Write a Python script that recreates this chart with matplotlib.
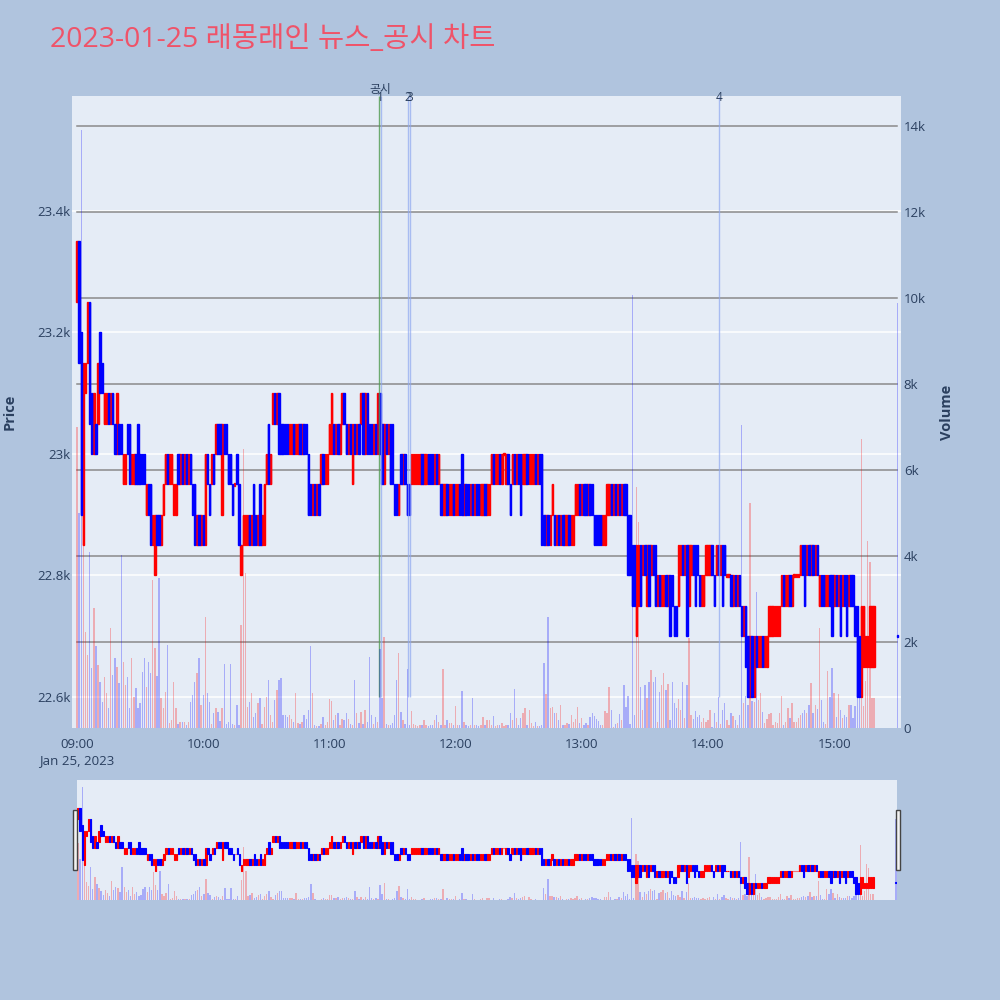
import matplotlib
matplotlib.use("Agg")
import matplotlib.pyplot as plt
import numpy as np
from matplotlib.patches import Rectangle

plt.rcParams["font.family"] = ["Open Sans", "Noto Sans CJK KR", "DejaVu Sans"]

TITLE = "2023-01-25 래몽래인 뉴스_공시 차트"

# 1-minute candles from 09:00 to 15:19.
# each token = open, close as hex steps of 50 won above 22,600
BASE_PRICE = 22600
STEP = 50
CANDLES = """
df fb c6 5b ab bd d9 a8 8a 98  9b ca ba 9a 9a a9 9a a9 98 89
98 98 78 78 98 97 78 78 87 97  87 87 87 67 76 75 56 46 65 65
56 67 78 87 78 78 67 67 87 78  87 78 87 78 87 76 75 56 65 56
65 58 87 76 78 87 89 98 98 69  98 98 87 87 76 77 87 75 45 56
56 56 65 56 75 65 56 75 56 57  78 97 78 9a a9 9a a8 98 98 98
98 89 89 98 89 89 98 89 98 98  86 76 67 76 67 76 78 87 78 78
89 89 98 89 98 89 9a a9 98 89  98 79 98 89 98 9a a8 8a a8 98
98 89 98 8a a8 97 79 98 89 97  97 76 76 67 87 78 87 76 76 78
78 78 78 78 87 78 78 87 87 87  78 87 78 76 67 67 76 67 67 76
67 67 76 86 67 76 76 67 76 67  76 76 67 67 76 67 67 78 87 78
78 87 78 88 78 87 76 78 87 78  87 86 78 78 87 78 78 78 87 78
87 85 65 56 65 56 67 65 56 65  56 65 56 56 65 56 56 67 67 76
67 76 76 67 76 76 65 65 65 65  56 56 67 67 76 67 76 67 76 67
76 76 64 64 53 53 25 35 53 45  54 35 53 45 54 53 34 43 34 34
43 34 42 43 32 32 35 45 54 45  52 35 45 54 53 54 43 34 34 45
45 45 54 43 45 54 45 53 54 44  44 43 34 43 34 43 32 23 31 20
02 20 02 21 12 12 21 12 12 23  23 23 23 23 23 34 43 34 34 43
34 44 44 44 45 54 53 45 54 45  54 45 54 34 43 43 34 34 43 42
34 43 34 42 34 43 42 34 43 43  32 30 20 03 13 12 12 13 13 13
"""
CLOSING_AUCTION = "22"          # 15:30 single price
EXTRA_HIGH = {19: "a", 121: "a"}

VOLUME = [
    7000, 5000, 13900, 4300, 2230, 1700, 4100, 1400, 2800, 1900,
    1460, 1070, 600, 1190, 810, 470, 2320, 1230, 1620, 1420,
    1040, 4020, 1540, 1000, 1190, 460, 1620, 720, 930, 460,
    570, 1310, 1620, 960, 1540, 1270, 3440, 1860, 1200, 3500,
    690, 460, 840, 1930, 120, 190, 1070, 460, 100, 130,
    150, 130, 70, 150, 600, 770, 1070, 1270, 1620, 540,
    770, 2580, 810, 600, 100, 350, 460, 380, 160, 460,
    1500, 100, 150, 1500, 100, 80, 540, 60, 2400, 6500,
    3600, 490, 600, 810, 260, 350, 570, 690, 100, 500,
    720, 1120, 310, 150, 650, 880, 1120, 1160, 300, 300,
    260, 300, 200, 150, 810, 120, 100, 140, 300, 220,
    420, 1900, 810, 70, 50, 50, 100, 260, 80, 150,
    670, 620, 190, 300, 340, 70, 220, 190, 340, 220,
    100, 70, 1110, 340, 120, 380, 100, 420, 150, 1640,
    300, 100, 250, 150, 1840, 690, 2120, 100, 80, 60,
    120, 300, 1110, 1740, 380, 190, 100, 1370, 80, 400,
    90, 70, 50, 60, 80, 190, 60, 50, 70, 80,
    190, 300, 150, 80, 1370, 60, 190, 110, 110, 70,
    510, 60, 80, 860, 150, 70, 50, 60, 690, 80,
    60, 50, 70, 260, 60, 190, 190, 60, 280, 50,
    60, 80, 110, 50, 60, 70, 340, 190, 900, 230,
    70, 230, 340, 460, 60, 420, 110, 50, 150, 50,
    40, 60, 1510, 790, 2590, 470, 490, 350, 350, 190,
    530, 70, 60, 110, 100, 300, 150, 210, 490, 120,
    230, 60, 110, 70, 260, 340, 280, 210, 170, 80,
    60, 400, 340, 960, 420, 30, 90, 110, 320, 190,
    990, 480, 740, 90, 10060, 300, 5600, 4800, 960, 420,
    990, 690, 1070, 1350, 1070, 1190, 150, 840, 990, 1270,
    880, 1030, 190, 1070, 580, 460, 670, 420, 1070, 230,
    1010, 2090, 300, 210, 400, 260, 300, 150, 230, 150,
    190, 420, 30, 340, 150, 720, 90, 420, 580, 190,
    70, 340, 280, 190, 70, 300, 7050, 570, 740, 540,
    5230, 620, 600, 3160, 650, 810, 380, 110, 200, 320,
    340, 70, 150, 110, 340, 740, 80, 150, 460, 230,
    590, 150, 130, 230, 300, 340, 430, 340, 530, 1040,
    360, 530, 450, 2320, 650, 150, 90, 1330, 730, 1390,
    810, 250, 790, 420, 230, 300, 260, 530, 530, 230,
    510, 1110, 730, 6720, 510, 1100, 4350, 3860, 690, 700,
    9880,
]

DISCLOSURES = ["11:24", "11:37", "11:38", "14:05"]
XTICK_LABELS = ["09:00\nJan 25, 2023", "10:00", "11:00", "12:00", "13:00", "14:00", "15:00"]
PRICE_TICKS = [22600, 22800, 23000, 23200, 23400]
PRICE_LABELS = ["22.6k", "22.8k", "23k", "23.2k", "23.4k"]
VOL_TICKS = [0, 2000, 4000, 6000, 8000, 10000, 12000, 14000]
VOL_LABELS = ["0", "2k", "4k", "6k", "8k", "10k", "12k", "14k"]

PRICE_LIM = (22549, 23589)
VOL_LIM = (0, 14700)
UP, DOWN = "#ff0000", "#0000ff"
PLOT_BG, PAPER_BG, FONT_C = "#e5ecf6", "#b0c4de", "#2a3f5f"

# ── parse ──────────────────────────────────
tokens = CANDLES.split() + [CLOSING_AUCTION]
opens = np.array([BASE_PRICE + STEP * int(t[0], 16) for t in tokens], float)
closes = np.array([BASE_PRICE + STEP * int(t[1], 16) for t in tokens], float)
highs = np.maximum(opens, closes)
lows = np.minimum(opens, closes)
for m, h in EXTRA_HIGH.items():
    highs[m] = max(highs[m], BASE_PRICE + STEP * int(h, 16))
minutes = np.r_[np.arange(len(tokens) - 1), 390]
vol = np.array(VOLUME, float)
assert len(vol) == len(tokens)

prev = np.r_[closes[0], closes[:-1]]
up = (closes > opens) | ((closes == opens) & (closes >= prev))
body_b = np.where(closes == opens, opens - 2, lows)
body_h = np.where(closes == opens, 4, highs - lows)


def to_min(t):
    h, m = map(int, t.split(":"))
    return (h - 9) * 60 + m


def draw_candles(ax, lw):
    for col, mask in ((UP, up), (DOWN, ~up)):
        ax.vlines(minutes[mask], lows[mask], highs[mask], color=col, lw=lw, zorder=3)
        ax.bar(minutes[mask], body_h[mask], width=0.65, bottom=body_b[mask],
               color=col, edgecolor=col, linewidth=lw, zorder=3)


def draw_volume(ax):
    ax.bar(minutes[up], vol[up], width=0.65, color=UP, alpha=0.27, linewidth=0)
    ax.bar(minutes[~up], vol[~up], width=0.65, color=DOWN, alpha=0.27, linewidth=0)


fig = plt.figure(figsize=(10, 10), dpi=100, facecolor=PAPER_BG)

# ── main panel ─────────────────────────────
ax = fig.add_axes([0.072, 0.272, 0.829, 0.632], facecolor=PLOT_BG)
ax.set_xlim(-2.4, 391.8)
ax.set_ylim(*PRICE_LIM)
for p in PRICE_TICKS:
    ax.axhline(p, color="white", lw=1.1, zorder=0.5)
for v in VOL_TICKS[1:]:
    p = PRICE_LIM[0] + v / VOL_LIM[1] * (PRICE_LIM[1] - PRICE_LIM[0])
    ax.axhline(p, xmin=0.006, xmax=0.995, color="#8a8a8a", lw=1.1, zorder=0.6)
draw_candles(ax, 1.0)

ax.set_yticks(PRICE_TICKS)
ax.set_yticklabels(PRICE_LABELS)
ax.set_xticks([0, 60, 120, 180, 240, 300, 360])
ax.set_xticklabels(XTICK_LABELS, linespacing=1.3)
ax.tick_params(axis="both", length=0, colors=FONT_C, labelsize=9.5)
ax.tick_params(axis="y", pad=1)
ax.tick_params(axis="x", pad=7)
for s in ax.spines.values():
    s.set_visible(False)

axv = ax.twinx()
axv.set_ylim(*VOL_LIM)
draw_volume(axv)
axv.set_yticks(VOL_TICKS)
axv.set_yticklabels(VOL_LABELS)
axv.tick_params(axis="y", length=0, colors=FONT_C, labelsize=9.5, pad=2)
for s in axv.spines.values():
    s.set_visible(False)

# disclosure markers
xs = [to_min(t) for t in DISCLOSURES]
ax.vlines(xs[0] - 0.2, 22600, PRICE_LIM[1], color="#4f9a4f", lw=1.0, alpha=0.8, zorder=5)
for i, x in enumerate(xs):
    ax.vlines(x + 0.3, 22600, PRICE_LIM[1], color="#8fa8f0", lw=1.0, alpha=0.7, zorder=5)
    ax.text(x + 0.3, PRICE_LIM[1] - 2, str(i + 1), ha="center", va="center",
            fontsize=8.5, color=FONT_C, zorder=6, clip_on=False)
ax.text(xs[0], PRICE_LIM[1] + 10, "공시", ha="center", va="center",
        fontsize=8.5, color=FONT_C, clip_on=False)

fig.text(0.05, 0.96, TITLE, fontsize=20.5, color="#ef5369", va="center", ha="left")
fig.text(0.010, 0.588, "Price", rotation=90, ha="center", va="center",
         fontsize=10.5, fontweight="bold", color=FONT_C)
fig.text(0.947, 0.588, "Volume", rotation=90, ha="center", va="center",
         fontsize=10.5, fontweight="bold", color=FONT_C)

# ── range slider ───────────────────────────
axs = fig.add_axes([0.077, 0.10, 0.820, 0.12], facecolor=PLOT_BG)
axs.set_xlim(-0.5, 390.5)
axs.set_ylim(*PRICE_LIM)
draw_candles(axs, 0.8)
axs.set_xticks([])
axs.set_yticks([])
for s in axs.spines.values():
    s.set_visible(False)
axsv = axs.twinx()
axsv.set_ylim(*VOL_LIM)
draw_volume(axsv)
axsv.set_yticks([])
for s in axsv.spines.values():
    s.set_visible(False)

for hx in (0.0733, 0.8963):
    fig.patches.append(Rectangle((hx, 0.13), 0.004, 0.06, transform=fig.transFigure,
                                 facecolor="#f2f2f2", edgecolor="#444444", lw=1.0))

fig.savefig("out.png", dpi=100, facecolor=PAPER_BG)
